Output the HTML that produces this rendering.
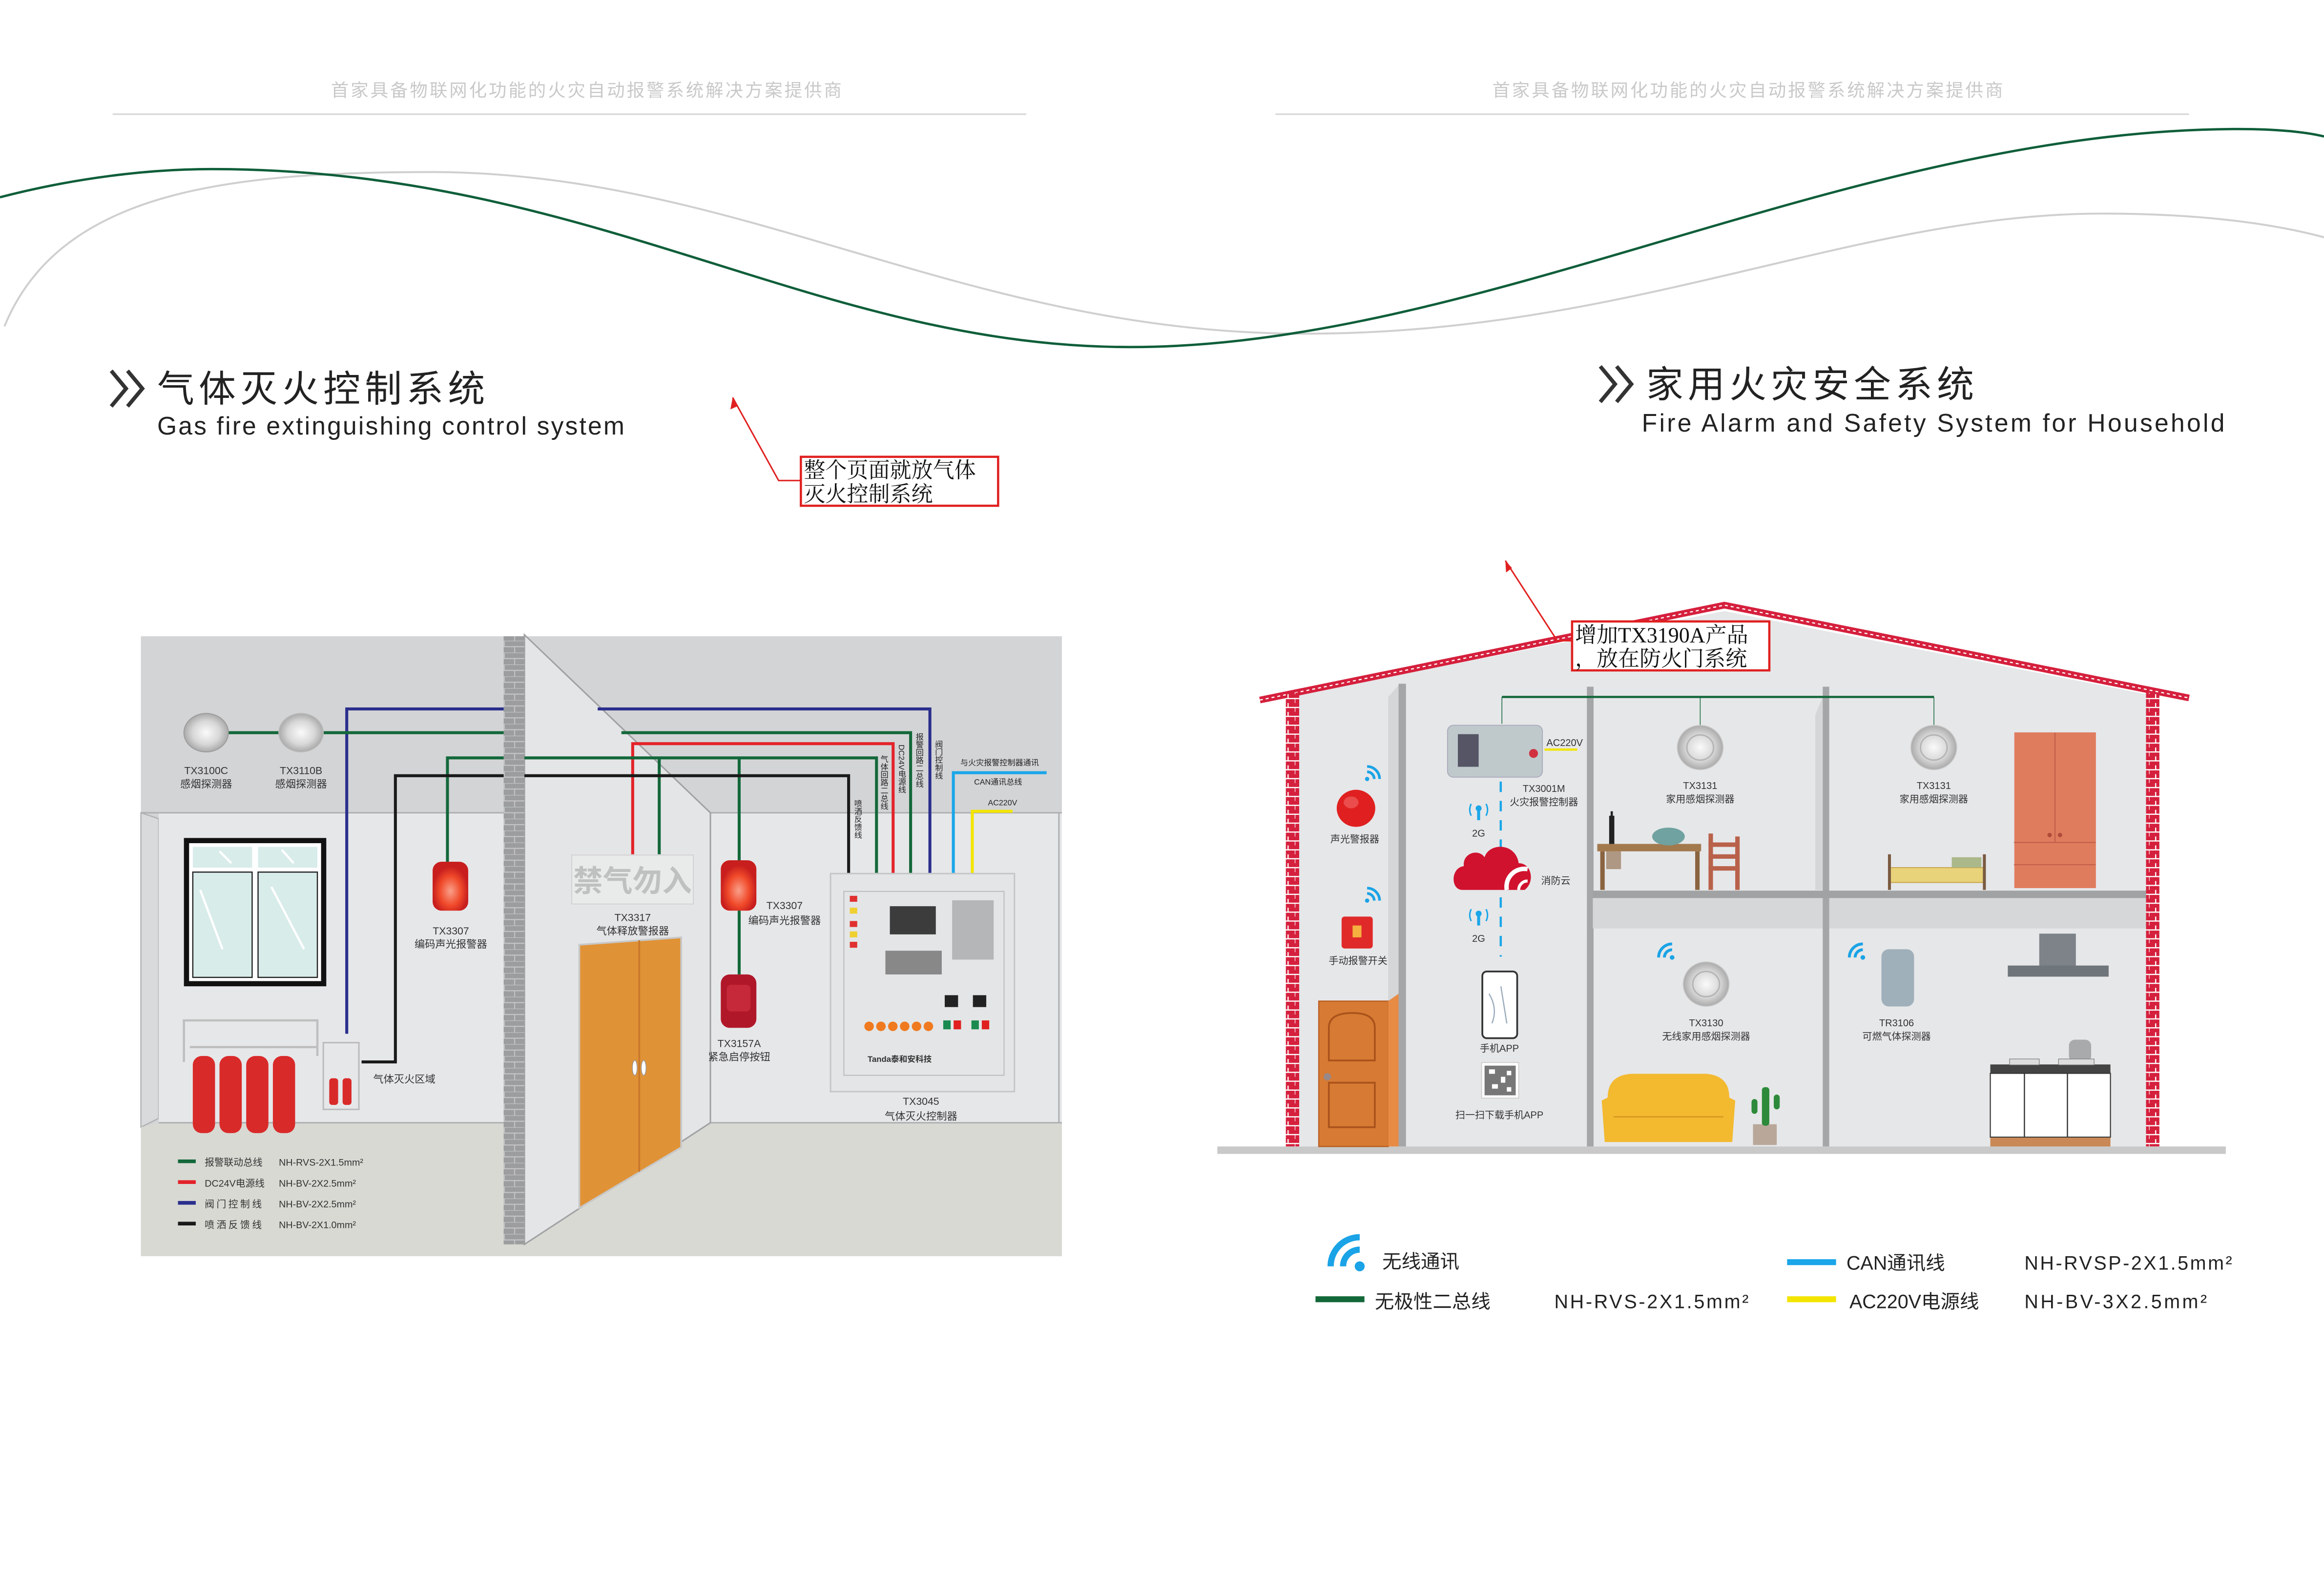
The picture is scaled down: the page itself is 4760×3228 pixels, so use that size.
<!DOCTYPE html>
<html><head><meta charset="utf-8"><style>
html,body{margin:0;padding:0;background:#fff;}
svg{display:block;}
text{font-family:"Liberation Sans","Noto Sans CJK SC",sans-serif;}
.s{font-family:"Liberation Serif","Noto Serif CJK SC",serif;}
.v{writing-mode:vertical-rl;}
</style></head><body>
<svg width="4760" height="3228" viewBox="0 0 1567 1062.6" preserveAspectRatio="none" xmlns="http://www.w3.org/2000/svg">
<defs>
<pattern id="brick" width="14" height="8" patternUnits="userSpaceOnUse">
<rect width="14" height="8" fill="#9c9d9f"/><path d="M0 0H14M0 4H14M4 0V4M11 4V8" stroke="#c4c5c7" stroke-width="0.7"/></pattern>
<pattern id="rb" width="9" height="6" patternUnits="userSpaceOnUse">
<rect width="9" height="6" fill="#d5203d"/><path d="M0 3H9M4.5 0V3M0 3V6" stroke="#fff" stroke-width="0.8"/></pattern>
<symbol id="wf" viewBox="0 0 20 20"><circle cx="17" cy="17" r="2.4" fill="#1aa3e6"/><path d="M9 17A8 8 0 0 1 17 9" stroke="#1aa3e6" stroke-width="3" fill="none"/><path d="M3 17A14 14 0 0 1 17 3" stroke="#1aa3e6" stroke-width="3" fill="none"/></symbol>
<symbol id="wf2" viewBox="0 0 20 20"><circle cx="3" cy="17" r="2.4" fill="#1aa3e6"/><path d="M3 9A8 8 0 0 1 11 17" stroke="#1aa3e6" stroke-width="3" fill="none"/><path d="M3 3A14 14 0 0 1 17 17" stroke="#1aa3e6" stroke-width="3" fill="none"/></symbol>
<radialGradient id="det"><stop offset="0" stop-color="#fafafa"/><stop offset="0.6" stop-color="#d8d8d8"/><stop offset="1" stop-color="#aaa"/></radialGradient>
<radialGradient id="rl" cx="0.5" cy="0.6"><stop offset="0" stop-color="#f9a08a"/><stop offset="0.6" stop-color="#f04a2a"/><stop offset="1" stop-color="#c81e1e"/></radialGradient>
</defs>

<!-- header -->
<text x="396" y="65" font-size="12" fill="#c9c9c9" text-anchor="middle" letter-spacing="1.3">首家具备物联网化功能的火灾自动报警系统解决方案提供商</text>
<text x="1179" y="65" font-size="12" fill="#c9c9c9" text-anchor="middle" letter-spacing="1.3">首家具备物联网化功能的火灾自动报警系统解决方案提供商</text>
<line x1="76" y1="77" x2="692" y2="77" stroke="#d5d5d5" stroke-width="1"/>
<line x1="860" y1="77" x2="1476" y2="77" stroke="#d5d5d5" stroke-width="1"/>

<!-- curves -->
<path d="M3,220 C40,130 150,116 290,116 C500,116 650,225 880,225 C1100,225 1250,144 1418,144 C1480,144 1530,150 1567,160" stroke="#cfcfcf" stroke-width="1.3" fill="none"/>
<path d="M0,133 C50,120 100,114 143,114 C400,114 550,234 762,234 C1000,234 1250,87 1510,87 C1535,87 1555,89 1567,92" stroke="#0f5e3a" stroke-width="1.6" fill="none"/>

<!-- titles -->
<path d="M75,250 L85,262 L75,274 M86,250 L96,262 L86,274" stroke="#333" stroke-width="2.6" fill="none"/>
<text x="106" y="271" font-size="25" fill="#222" letter-spacing="3">气体灭火控制系统</text>
<text x="106" y="293" font-size="17" fill="#222" textLength="315" lengthAdjust="spacing">Gas fire extinguishing control system</text>
<path d="M1079,247 L1089,259 L1079,271 M1090,247 L1100,259 L1090,271" stroke="#333" stroke-width="2.6" fill="none"/>
<text x="1110" y="268" font-size="25" fill="#222" letter-spacing="3">家用火灾安全系统</text>
<text x="1107" y="291" font-size="17" fill="#222" textLength="393" lengthAdjust="spacing">Fire Alarm and Safety System for Household</text>

<!-- annotation 1 -->
<polyline points="494,268 525,324 540,324" stroke="#e02020" stroke-width="1" fill="none"/>
<path d="M494,268 L492.5,276 L497,274Z" fill="#e02020"/>
<rect x="540" y="308" width="133" height="33" fill="#fff" stroke="#e02020" stroke-width="1.5"/>
<text class="s" x="542" y="322" font-size="14.5" fill="#111">整个页面就放气体</text>
<text class="s" x="542" y="338" font-size="14.5" fill="#111">灭火控制系统</text>

<!-- ===== LEFT DIAGRAM ===== -->
<rect x="95" y="429" width="621" height="418" fill="#d3d4d6"/>
<polygon points="95,548 107,552 107,754 95,760" fill="#d9dadc" stroke="#aeb0b2" stroke-width="0.8"/>
<rect x="107" y="548" width="233" height="209" fill="#e6e7e9"/>
<line x1="95" y1="548" x2="340" y2="548" stroke="#aeb0b2" stroke-width="1"/>
<polygon points="95,760 107,757 340,757 340,847 95,847" fill="#d8d9d3"/>
<line x1="107" y1="757" x2="340" y2="757" stroke="#aeb0b2" stroke-width="1"/>
<rect x="479" y="548" width="237" height="209" fill="#e6e7e9"/>
<line x1="479" y1="548" x2="716" y2="548" stroke="#aeb0b2" stroke-width="1"/>
<line x1="714" y1="548" x2="714" y2="757" stroke="#aeb0b2" stroke-width="1"/>
<polygon points="340,757 716,757 716,847 340,847" fill="#d8d9d3"/>
<line x1="479" y1="757" x2="716" y2="757" stroke="#aeb0b2" stroke-width="1"/>
<polygon points="353.6,428 479,548 479,757 353.6,839" fill="#e4e5e7" stroke="#9fa1a3" stroke-width="1"/>
<rect x="339.6" y="429" width="14" height="410" fill="url(#brick)"/>

<!-- window -->
<rect x="124" y="565" width="96" height="100" fill="#111"/>
<rect x="127.5" y="568.5" width="89" height="93" fill="#fff"/>
<rect x="130" y="571" width="40" height="14" fill="#d8ecea"/><rect x="174" y="571" width="40" height="14" fill="#d8ecea"/>
<rect x="130" y="588" width="40" height="71" fill="#d8ecea" stroke="#222" stroke-width="0.8"/><rect x="174" y="588" width="40" height="71" fill="#d8ecea" stroke="#222" stroke-width="0.8"/>
<path d="M135 600L150 640M183 598L205 640M148 574L156 582M190 573L198 582" stroke="#fff" stroke-width="1.5"/>

<!-- wires -->
<g fill="none" stroke-width="2">
<polyline points="233.8,697 233.8,478 339.6,478" stroke="#2a2e8c"/>
<polyline points="403,478 627,478 627,589" stroke="#2a2e8c"/>
<polyline points="154,494 339.6,494" stroke="#13683a"/>
<polyline points="419,494 614,494 614,589" stroke="#13683a"/>
<polyline points="426.6,576 426.6,501.4 602.2,501.4 602.2,589" stroke="#e3232a"/>
<polyline points="301.7,581 301.7,511 339.6,511" stroke="#13683a"/>
<polyline points="353.6,511 591,511 591,589" stroke="#13683a"/>
<polyline points="444.5,511 444.5,576" stroke="#13683a"/>
<polyline points="498.4,511 498.4,657" stroke="#13683a"/>
<polyline points="243.8,716 266.6,716 266.6,523 339.6,523" stroke="#1a1a1a"/>
<polyline points="353.6,523 572.2,523 572.2,589" stroke="#1a1a1a"/>
<polyline points="642.8,589 642.8,521 705.7,521" stroke="#1aa6e8"/>
<polyline points="655.6,589 655.6,547 682.7,547" stroke="#f3e500"/>
</g>
<g font-size="5.3" fill="#222">
<text class="v" x="578" y="539">喷洒反馈线</text>
<text class="v" x="595.7" y="509">气体回路二总线</text>
<text class="v" x="607.7" y="502">DC24V电源线</text>
<text class="v" x="619.5" y="494">报警回路二总线</text>
<text class="v" x="632.5" y="499">阀门控制线</text>
<text x="674" y="516" text-anchor="middle">与火灾报警控制器通讯</text>
<text x="673" y="529" text-anchor="middle">CAN通讯总线</text>
<text x="676" y="543" text-anchor="middle">AC220V</text>
</g>

<ellipse cx="139" cy="494" rx="15" ry="13" fill="url(#det)" stroke="#9a9a9a" stroke-width="0.6"/>
<ellipse cx="203" cy="494" rx="15" ry="13" fill="url(#det)" stroke="#bbb" stroke-width="0.6"/>
<g font-size="7" fill="#333" text-anchor="middle">
<text x="139" y="522">TX3100C</text><text x="139" y="531">感烟探测器</text>
<text x="203" y="522">TX3110B</text><text x="203" y="531">感烟探测器</text>
<text x="304" y="630">TX3307</text><text x="304" y="639">编码声光报警器</text>
<text x="426.6" y="621">TX3317</text><text x="426.6" y="630">气体释放警报器</text>
<text x="529" y="613">TX3307</text><text x="529" y="623">编码声光报警器</text>
<text x="498.4" y="706">TX3157A</text><text x="498.4" y="715">紧急启停按钮</text>
<text x="621" y="745">TX3045</text><text x="621" y="755">气体灭火控制器</text>
<text x="272.6" y="730">气体灭火区域</text>
</g>
<rect x="291.7" y="581" width="24" height="33" rx="6" fill="url(#rl)"/>
<rect x="486" y="580" width="24" height="34" rx="6" fill="url(#rl)"/>
<rect x="486" y="657" width="24" height="36" rx="6" fill="#b0182a"/>
<rect x="490" y="664" width="16" height="18" rx="3" fill="#d03040" opacity="0.7"/>
<rect x="385.5" y="576.5" width="82" height="33" fill="#e9eaea" stroke="#d0d0d0" stroke-width="0.6"/>
<text x="426.5" y="601" font-size="20" fill="#bfc0c0" text-anchor="middle" font-weight="bold">禁气勿入</text>
<polygon points="390.6,637 459.3,632 459.3,773.6 390.6,814.5" fill="#e09236" stroke="#c8c8c8" stroke-width="1.2"/>
<line x1="431" y1="634" x2="431" y2="790" stroke="#c9772a" stroke-width="1.2"/>
<ellipse cx="428" cy="720" rx="1.6" ry="5" fill="#fff" stroke="#999" stroke-width="0.5"/>
<ellipse cx="434" cy="720" rx="1.6" ry="5" fill="#fff" stroke="#999" stroke-width="0.5"/>
<rect x="560" y="589" width="124" height="147" fill="#e3e5e6" stroke="#c4c6c8" stroke-width="1"/>
<rect x="569" y="601" width="108" height="124" fill="none" stroke="#b5b7b9" stroke-width="0.6"/>
<rect x="600" y="611" width="31" height="19" fill="#3c3c3c"/>
<g fill="#e03030"><rect x="573" y="604" width="5" height="4"/><rect x="573" y="621" width="5" height="4"/><rect x="573" y="635" width="5" height="4"/></g>
<g fill="#f0d030"><rect x="573" y="612" width="5" height="4"/><rect x="573" y="628" width="5" height="4"/></g>
<g fill="#888"><rect x="597" y="641" width="38" height="16"/><rect x="642" y="607" width="28" height="40" opacity="0.5"/></g>
<g fill="#f07a20"><circle cx="586" cy="692" r="3.2"/><circle cx="594" cy="692" r="3.2"/><circle cx="602" cy="692" r="3.2"/><circle cx="610" cy="692" r="3.2"/><circle cx="618" cy="692" r="3.2"/><circle cx="626" cy="692" r="3.2"/></g>
<rect x="637" y="671" width="9" height="8" fill="#222"/><rect x="656" y="671" width="9" height="8" fill="#222"/>
<rect x="636" y="688" width="5" height="6" fill="#1a8a50"/><rect x="643" y="688" width="5" height="6" fill="#e02020"/>
<rect x="655" y="688" width="5" height="6" fill="#1a8a50"/><rect x="662" y="688" width="5" height="6" fill="#e02020"/>
<text x="585" y="716" font-size="5.5" font-weight="bold" fill="#333">Tanda泰和安科技</text>
<g stroke="#bfbfbf" stroke-width="1.5" fill="none"><polyline points="124,716 124,688 214,688 214,712"/><line x1="128" y1="706" x2="214" y2="706"/></g>
<g fill="#d92a2a"><rect x="130" y="712" width="15" height="52" rx="6"/><rect x="148" y="712" width="15" height="52" rx="6"/><rect x="166" y="712" width="15" height="52" rx="6"/><rect x="184" y="712" width="15" height="52" rx="6"/>
<rect x="222" y="727" width="6" height="18" rx="2"/><rect x="231" y="727" width="6" height="18" rx="2"/></g>
<rect x="218" y="703" width="24" height="45" fill="none" stroke="#bbb" stroke-width="1"/>
<g stroke-width="2.5"><line x1="120" y1="783" x2="132" y2="783" stroke="#13683a"/><line x1="120" y1="797" x2="132" y2="797" stroke="#e3232a"/><line x1="120" y1="811" x2="132" y2="811" stroke="#2a2e8c"/><line x1="120" y1="825" x2="132" y2="825" stroke="#1a1a1a"/></g>
<g font-size="6.5" fill="#333">
<text x="138" y="786">报警联动总线</text><text x="188" y="786">NH-RVS-2X1.5mm²</text>
<text x="138" y="800">DC24V电源线</text><text x="188" y="800">NH-BV-2X2.5mm²</text>
<text x="138" y="814" letter-spacing="1.5">阀门控制线</text><text x="188" y="814">NH-BV-2X2.5mm²</text>
<text x="138" y="828" letter-spacing="1.5">喷洒反馈线</text><text x="188" y="828">NH-BV-2X1.0mm²</text>
</g>

<!-- ===== RIGHT HOUSE ===== -->
<polygon points="876,468 1162.7,412 1447,468 1447,773 876,773" fill="#e6e7e9"/>
<polyline points="849.5,472 1162.7,408 1476,470.6" fill="none" stroke="#d5203d" stroke-width="4.5"/>
<polyline points="849.5,472 1162.7,408 1476,470.6" fill="none" stroke="#fff" stroke-width="0.8" stroke-dasharray="2 2"/>
<rect x="867" y="467" width="9" height="306" fill="url(#rb)"/>
<rect x="1447" y="467" width="9" height="306" fill="url(#rb)"/>
<rect x="820.8" y="773" width="680" height="5" fill="#c9c9c9"/>
<polygon points="936,470 943,462 943,773 936,773" fill="#d5d6d8"/>
<rect x="943" y="461" width="5" height="312" fill="#a5a6a8"/>
<rect x="1070" y="463" width="4.5" height="310" fill="#a5a6a8"/>
<rect x="1074" y="605" width="373" height="21" fill="#d6d7d9"/>
<polygon points="1224,482 1229,470 1229,600 1224,600" fill="#d5d6d8"/>
<rect x="1229" y="463" width="4.4" height="310" fill="#a5a6a8"/>
<rect x="1074" y="600.5" width="373" height="5" fill="#a1a2a4"/>
<polyline points="1012.7,469.9 1304,469.9" stroke="#13683a" stroke-width="1.5" fill="none"/>
<g stroke="#13683a" stroke-width="0.5"><line x1="1012.7" y1="470" x2="1012.7" y2="488"/><line x1="1146.4" y1="470" x2="1146.4" y2="491"/><line x1="1304" y1="470" x2="1304" y2="491"/></g>
<rect x="976" y="489" width="64" height="35" rx="4" fill="#bfc9cc" stroke="#aab" stroke-width="0.6"/>
<rect x="983" y="495" width="14" height="22" fill="#556"/>
<circle cx="1034" cy="508" r="3" fill="#d03040"/>
<line x1="1041.4" y1="505.4" x2="1063.5" y2="505.4" stroke="#f3e500" stroke-width="1.5"/>
<line x1="1011.9" y1="527" x2="1011.9" y2="645" stroke="#1aa6e8" stroke-width="1.5" stroke-dasharray="7 6"/>
<path d="M986,600 C978,600 978,585 987,584 C986,575 997,572 1001,578 C1004,568 1022,568 1024,582 C1033,582 1035,595 1028,600 Z" fill="#d0122e"/>
<path d="M1016,600 A12 12 0 0 1 1030,586" stroke="#fff" stroke-width="3" fill="none"/>
<path d="M1024,600 A6 6 0 0 1 1030,594" stroke="#fff" stroke-width="2" fill="none"/>
<g fill="#1aa6e8"><rect x="996" y="545" width="2" height="8"/><circle cx="997" cy="545" r="2"/><rect x="996" y="616" width="2" height="8"/><circle cx="997" cy="616" r="2"/></g>
<g stroke="#1aa6e8" stroke-width="1" fill="none"><path d="M992,542 Q990,546 992,550M1002,542 Q1004,546 1002,550M992,613 Q990,617 992,621M1002,613 Q1004,617 1002,621"/></g>
<rect x="999.5" y="655" width="23.5" height="45" rx="3" fill="#fff" stroke="#333" stroke-width="1.2"/>
<path d="M1004 670 Q1010 680 1006 690 M1012 665 L1016 690" stroke="#9ab" stroke-width="0.8" fill="none"/>
<rect x="999" y="716.4" width="25" height="24" fill="#fff" stroke="#ccc" stroke-width="0.6"/>
<rect x="1001" y="718.5" width="21" height="20" fill="#555" opacity="0.8"/>
<g fill="#fff"><rect x="1004" y="721" width="4" height="3"/><rect x="1012" y="726" width="3" height="4"/><rect x="1006" y="731" width="4" height="3"/><rect x="1016" y="722" width="3" height="3"/><rect x="1016" y="733" width="3" height="3"/></g>
<use href="#wf2" x="920" y="515" width="12" height="12"/>
<use href="#wf2" x="920" y="597" width="12" height="12"/>
<ellipse cx="914.3" cy="545" rx="13" ry="12.5" fill="#e02020"/>
<ellipse cx="911" cy="541" rx="5" ry="4" fill="#f06060" opacity="0.7"/>
<rect x="904.6" y="618" width="21" height="21.5" rx="2" fill="#e02a2a"/>
<rect x="912" y="624" width="6" height="8" fill="#f5b040"/>
<rect x="889.2" y="675" width="47" height="98" fill="#d77a33" stroke="#b85e22" stroke-width="0.8"/>
<path d="M896,715 L896,693 Q896,683 912,683 Q927,683 927,693 L927,715 Z" fill="none" stroke="#a9521c" stroke-width="1.2"/>
<rect x="896" y="730" width="31" height="30" fill="none" stroke="#a9521c" stroke-width="1.2"/>
<circle cx="895" cy="726" r="2.5" fill="#988"/>
<polygon points="936,675 943,670 943,773 936,773" fill="#e88b45"/>
<ellipse cx="1146.4" cy="504" rx="15.5" ry="15" fill="url(#det)" stroke="#ccc" stroke-width="0.6"/>
<ellipse cx="1146.4" cy="504" rx="9" ry="8.5" fill="none" stroke="#b5b5b5" stroke-width="1"/>
<ellipse cx="1303.9" cy="504" rx="15.5" ry="15" fill="url(#det)" stroke="#ccc" stroke-width="0.6"/>
<ellipse cx="1303.9" cy="504" rx="9" ry="8.5" fill="none" stroke="#b5b5b5" stroke-width="1"/>
<ellipse cx="1150.4" cy="663.5" rx="15.5" ry="15" fill="url(#det)" stroke="#ccc" stroke-width="0.6"/>
<ellipse cx="1150.4" cy="663.5" rx="9" ry="8.5" fill="none" stroke="#b5b5b5" stroke-width="1"/>
<rect x="1077" y="569" width="70" height="5" fill="#a2794d"/>
<g fill="#8a6440"><rect x="1079" y="574" width="3" height="26"/><rect x="1143" y="574" width="3" height="26"/><rect x="1083" y="574" width="10" height="12" opacity="0.6"/></g>
<rect x="1085" y="550" width="3.5" height="19" fill="#222"/><rect x="1086" y="547" width="1.5" height="4" fill="#222"/>
<ellipse cx="1125" cy="564" rx="11" ry="6" fill="#6fa2a0"/>
<g fill="#b9614a"><rect x="1152" y="562" width="3" height="38"/><rect x="1170" y="564" width="3" height="36"/><rect x="1152" y="568" width="20" height="3"/><rect x="1152" y="576" width="20" height="3"/><rect x="1152" y="584" width="21" height="3"/></g>
<rect x="1274" y="585" width="64" height="10" fill="#e8d27a" stroke="#c8a040" stroke-width="0.6"/>
<rect x="1273" y="576" width="2" height="24" fill="#7a5a40"/><rect x="1337" y="576" width="2" height="24" fill="#7a5a40"/>
<rect x="1316" y="578" width="20" height="7" fill="#aab88a"/>
<rect x="1358.2" y="493.8" width="55" height="105" fill="#e07c5e"/>
<g stroke="#c4604a" stroke-width="0.8"><line x1="1385.6" y1="494" x2="1385.6" y2="568"/><line x1="1358" y1="568" x2="1413" y2="568"/><line x1="1358" y1="583" x2="1413" y2="583"/></g>
<circle cx="1382" cy="563" r="1.5" fill="#b04a3a"/><circle cx="1389" cy="563" r="1.5" fill="#b04a3a"/>
<use href="#wf" x="1116.4" y="634.5" width="13" height="13"/>
<use href="#wf" x="1245" y="634.5" width="13" height="13"/>
<rect x="1268.6" y="640" width="22" height="38.6" rx="5" fill="#9fb0ba"/>
<path d="M1084,740 Q1084,725 1100,724 L1150,724 Q1166,725 1166,740 L1170,742 L1168,770 L1082,770 L1080,742Z" fill="#f3b92f"/>
<line x1="1088" y1="753" x2="1162" y2="753" stroke="#d99c20" stroke-width="1"/>
<rect x="1182" y="758" width="16" height="14" fill="#b9a89a"/>
<rect x="1188" y="733" width="5" height="26" rx="2" fill="#2d8a3a"/><rect x="1181" y="741" width="4" height="10" rx="2" fill="#2d8a3a"/><rect x="1196" y="738" width="4" height="10" rx="2" fill="#2d8a3a"/>
<rect x="1375" y="629.5" width="24.7" height="22" fill="#7d8388"/>
<rect x="1353.8" y="651" width="68" height="7.5" fill="#6f767b"/>
<rect x="1342" y="717.7" width="81" height="6" fill="#444"/>
<rect x="1342" y="723.7" width="81" height="43" fill="#fff" stroke="#333" stroke-width="0.7"/>
<line x1="1365" y1="724" x2="1365" y2="767" stroke="#333" stroke-width="0.8"/><line x1="1394" y1="724" x2="1394" y2="767" stroke="#333" stroke-width="0.8"/>
<rect x="1342" y="767" width="81" height="6" fill="#c98855"/>
<rect x="1395" y="701" width="15" height="15" rx="4" fill="#a8aaac"/>
<rect x="1355" y="714" width="20" height="4" fill="#ddd" stroke="#777" stroke-width="0.4"/><rect x="1388" y="714" width="24" height="4" fill="#ddd" stroke="#777" stroke-width="0.4"/>
<g font-size="6.6" fill="#333" text-anchor="middle">
<text x="1055" y="503">AC220V</text>
<text x="1041" y="534">TX3001M</text><text x="1041" y="543">火灾报警控制器</text>
<text x="997" y="564">2G</text><text x="997" y="635">2G</text>
<text x="1049" y="596">消防云</text>
<text x="913.5" y="568">声光警报器</text>
<text x="915.7" y="650">手动报警开关</text>
<text x="1011" y="709">手机APP</text>
<text x="1011" y="754">扫一扫下载手机APP</text>
<text x="1146.4" y="532">TX3131</text><text x="1146.4" y="541">家用感烟探测器</text>
<text x="1303.9" y="532">TX3131</text><text x="1303.9" y="541">家用感烟探测器</text>
<text x="1150.4" y="692">TX3130</text><text x="1150.4" y="701">无线家用感烟探测器</text>
<text x="1278.8" y="692">TR3106</text><text x="1278.8" y="701">可燃气体探测器</text>
</g>
<polyline points="1015,378 1050,432 1060,432" stroke="#e02020" stroke-width="1" fill="none"/>
<path d="M1015,378 L1015.5,386 L1019.5,383Z" fill="#e02020"/>
<rect x="1060" y="419" width="133" height="33" fill="#fff" stroke="#e02020" stroke-width="1.5"/>
<text class="s" x="1062" y="433" font-size="14.5" fill="#111">增加TX3190A产品</text>
<text class="s" x="1062" y="449" font-size="14.5" fill="#111">，放在防火门系统</text>

<use href="#wf" x="893" y="830" width="28" height="28"/>
<g font-size="13" fill="#222">
<text x="932" y="855">无线通讯</text>
<text x="927" y="882">无极性二总线</text>
<text x="1048" y="882" textLength="131" lengthAdjust="spacing">NH-RVS-2X1.5mm²</text>
<text x="1245" y="856">CAN通讯线</text>
<text x="1365" y="856" textLength="140" lengthAdjust="spacing">NH-RVSP-2X1.5mm²</text>
<text x="1247" y="882">AC220V电源线</text>
<text x="1365" y="882" textLength="123" lengthAdjust="spacing">NH-BV-3X2.5mm²</text>
</g>
<rect x="887" y="874" width="33" height="4" fill="#13683a"/>
<rect x="1205" y="849" width="33" height="4" fill="#1aa6e8"/>
<rect x="1205" y="874" width="33" height="4" fill="#f3e500"/>
</svg>
</body></html>
